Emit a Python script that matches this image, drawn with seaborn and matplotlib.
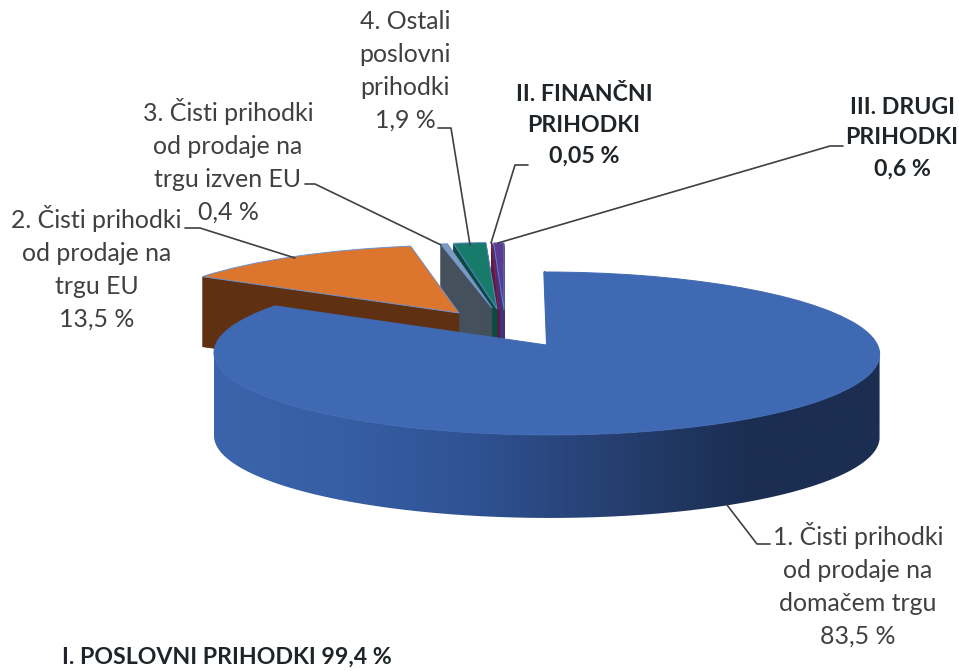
"""3D exploded pie of revenue shares, drawn with ax.pie under a perspective transform."""

import matplotlib
matplotlib.use("Agg")
import matplotlib.pyplot as plt
import matplotlib.transforms as mtransforms
from matplotlib.patches import PathPatch
from matplotlib.path import Path
import numpy as np
import seaborn as sns

# slices clockwise from 12 o'clock
slice_names = ["domaci trg", "trg EU", "izven EU", "ostali", "financni", "drugi"]
shares = [83.5, 13.5, 0.4, 1.9, 0.05, 0.6]

top_colors = ["#3f69b3", "#dc752d", "#7f9bc2", "#177a6b", "#7a1f4f", "#5c3a8f"]
side_colors = ["#2e5191", "#5f3012", "#44505c", "#0d4a42", "#5a1a3c", "#46307a"]
edge_colors = ["#4069b3", "#6f93cc", "#6f93cc", "#5b86c8", "#7a1f4f", "#5b86c8"]

# pixel position of each exploded slice's tip, its size and extruded depth
tips_x = [546.5, 459, 492, 497, 499, 504]
tips_y = [345, 313, 308, 309, 310, 310]
scales = [1.0, 0.93, 0.89, 0.91, 0.92, 0.92]
widths = [1.0, 0.96, 0.93, 0.91, 0.62, 0.92]
skews = [3, -5.4, 0, 0, 0, 0]
depths = [83, 70, 70, 70, 70, 70]
# back to front
layer_rank = [6, 5, 4, 3, 2, 1]

labels = [
    "1. Čisti prihodki\nod prodaje na\ndomačem trgu\n83,5 %",
    "2. Čisti prihodki\nod prodaje na\ntrgu EU\n13,5 %",
    "3. Čisti prihodki\nod prodaje na\ntrgu izven EU\n0,4 %",
    "4. Ostali\nposlovni\nprihodki\n1,9 %",
    "II. FINANČNI\nPRIHODKI\n0,05 %",
    "III. DRUGI\nPRIHODKI\n0,6 %",
]
label_x = [858, 96.5, 228, 405, 584, 902]
label_y = [585, 268, 161, 71, 125, 138]
label_bold = [False, False, False, False, True, True]
footer = "I. POSLOVNI PRIHODKI 99,4 %"

leaders = [
    ([727, 757, 770], [505, 544, 544]),
    ([295, 200, 185], [258, 228, 228]),
    ([441, 315, 305], [245, 184, 184]),
    ([470, 451, 438], [245, 128, 128]),
    ([491, 515, 528], [243, 165, 165]),
    ([498, 830, 843], [243, 146, 146]),
]

RX, RY, TILT = 331.0, 80.6, 0.104


class Perspective(mtransforms.Transform):
    """Lay the unit pie flat on a tilted plane, output is in pixels."""
    input_dims = 2
    output_dims = 2

    def __init__(self, x0, y0, scale=1.0, width=1.0, skew=0, drop=0):
        super().__init__()
        self.x0, self.y0, self.scale, self.width = x0, y0, scale, width
        self.skew, self.drop = skew, drop

    def transform_non_affine(self, values):
        values = np.asarray(values, dtype=float)
        v = -values[:, 1]
        w = 1 - TILT * v
        x = self.x0 + (self.width * RX * values[:, 0] + self.skew * v) / w
        y = self.y0 + self.drop + self.scale * RY * v / w
        return np.column_stack([x, y])


sns.set_theme(style="white")
plt.rcParams["font.family"] = ["Lato", "DejaVu Sans"]

fig = plt.figure(figsize=(9.59, 6.71), dpi=100)
ax = fig.add_axes([0, 0, 1, 1])

# extruded layers first, the top faces last
for drop in range(max(depths), -1, -1):
    colors = top_colors if drop == 0 else side_colors
    wedges, _ = ax.pie(shares, startangle=90, counterclock=False, colors=colors)
    for i, wedge in enumerate(wedges):
        if drop > depths[i] or (i == 0 and drop > 0):
            wedge.remove()
            continue
        persp = Perspective(tips_x[i], tips_y[i], scales[i], widths[i], skews[i], drop)
        wedge.set_transform(persp + ax.transData)
        wedge.set_zorder(layer_rank[i])
        if drop == 0:
            wedge.set_edgecolor(edge_colors[i])
            wedge.set_linewidth(0.7)
        else:
            wedge.set_edgecolor(side_colors[i])
            wedge.set_linewidth(0.6)

# the big slice has a shaded rim, running between its two widest points
widest = np.degrees(np.arcsin(TILT))
theta = np.radians(np.linspace(180 + widest, 360 - widest, 200))
arc = np.column_stack([np.cos(theta), np.sin(theta)])
upper = Perspective(tips_x[0], tips_y[0], skew=skews[0]).transform(arc)
lower = Perspective(tips_x[0], tips_y[0], skew=skews[0], drop=depths[0]).transform(arc)
rim = Path(np.vstack([upper, lower[::-1], upper[:1]]))
rim_cmap = sns.blend_palette(["#3b64ad", "#365ea4", "#2e5191", "#263f70", "#1b2e52", "#1b2e52"], as_cmap=True)
rim_img = ax.imshow(np.linspace(0, 1, 256).reshape(1, -1), cmap=rim_cmap, aspect="auto",
                    extent=(214, 881, 525, 340), zorder=5.5)
rim_img.set_clip_path(PathPatch(rim, transform=ax.transData))

# thin dark cut of the big slice at 12 o'clock
ax.plot([0, 0], [0, 1], color="#1b2e52", lw=1.2, zorder=5.9,
        transform=Perspective(tips_x[0] + 1, tips_y[0], skew=skews[0]) + ax.transData)

for xs, ys in leaders:
    ax.plot(xs, ys, color="#404040", lw=1.2, zorder=7)

for text, x, y, bold in zip(labels, label_x, label_y, label_bold):
    ax.text(x, y, text, ha="center", va="center", fontsize=16.7 if bold else 17.9,
            linespacing=1.58 if bold else 1.52, color="#1f2428" if bold else "#404040",
            fontweight="bold" if bold else "normal", zorder=8)
ax.text(62, 657, footer, ha="left", va="center", fontsize=16.7, fontweight="bold", color="#1f2428", zorder=8)

ax.set_aspect("auto")
ax.set_xlim(0, 959)
ax.set_ylim(671, 0)
ax.axis("off")

fig.savefig("out.png", dpi=100)
